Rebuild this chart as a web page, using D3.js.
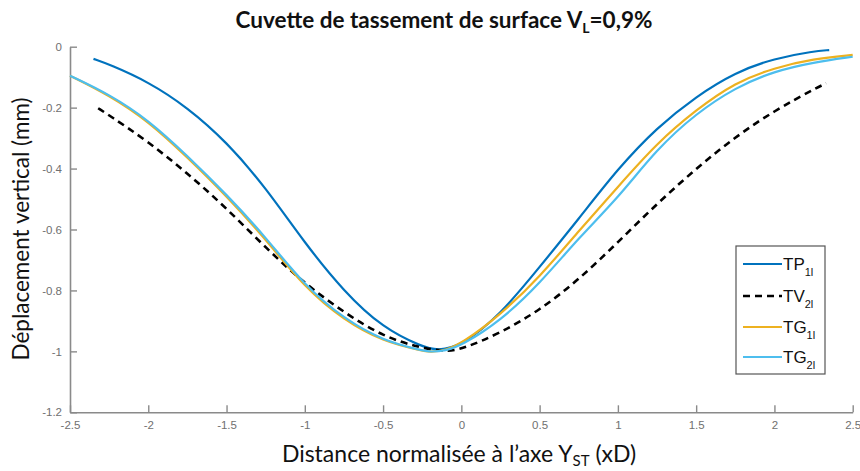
<!DOCTYPE html>
<html><head><meta charset="utf-8">
<script src="https://cdn.jsdelivr.net/npm/d3@7"></script>
<style>
html,body{margin:0;padding:0;background:#fff;}
svg{display:block;}
</style>
</head><body>
<svg id="chart" width="860" height="471"></svg>
<script>
// ---- data ----
const xTicks = [-2.5, -2, -1.5, -1, -0.5, 0, 0.5, 1, 1.5, 2, 2.5];
const xTickLabels = ["-2.5", "-2", "-1.5", "-1", "-0.5", "0", "0.5", "1", "1.5", "2", "2.5"];
const yTicks = [0, -0.2, -0.4, -0.6, -0.8, -1, -1.2];
const yTickLabels = ["0", "-0.2", "-0.4", "-0.6", "-0.8", "-1", "-1.2"];

const seriesNames = ["TP", "TV", "TG", "TG"];
const seriesSubs = ["1l", "2l", "1l", "2l"];

const tp1X = [-2.35, -2.25, -2.0, -1.75, -1.5, -1.25, -1.0, -0.75, -0.5, -0.25, -0.15, 0, 0.25, 0.5, 0.75, 1.0, 1.25, 1.5, 1.75, 2.0, 2.25, 2.35];
const tp1Y = [-0.040, -0.058, -0.115, -0.199, -0.312, -0.462, -0.645, -0.804, -0.924, -0.985, -0.998, -0.982, -0.880, -0.723, -0.565, -0.400, -0.265, -0.163, -0.084, -0.038, -0.015, -0.011];

const tv2X = [-2.32, -2.25, -2.0, -1.75, -1.5, -1.25, -1.0, -0.75, -0.5, -0.25, -0.1, 0, 0.25, 0.5, 0.75, 1.0, 1.25, 1.5, 1.75, 2.0, 2.25, 2.33];
const tv2Y = [-0.202, -0.225, -0.312, -0.415, -0.530, -0.660, -0.778, -0.872, -0.952, -0.990, -1.000, -0.994, -0.940, -0.865, -0.765, -0.642, -0.515, -0.400, -0.296, -0.210, -0.140, -0.120];

const tg1X = [-2.5, -2.25, -2.0, -1.75, -1.5, -1.25, -1.0, -0.75, -0.5, -0.25, -0.2, -0.1, 0, 0.25, 0.5, 0.75, 1.0, 1.25, 1.5, 1.75, 2.0, 2.25, 2.5];
const tg1Y = [-0.095, -0.159, -0.244, -0.363, -0.490, -0.632, -0.791, -0.898, -0.968, -0.998, -1.003, -0.996, -0.975, -0.880, -0.756, -0.605, -0.460, -0.316, -0.207, -0.117, -0.069, -0.040, -0.027];

const tg2X = [-2.5, -2.25, -2.0, -1.75, -1.5, -1.25, -1.0, -0.75, -0.5, -0.25, -0.2, -0.1, 0, 0.25, 0.5, 0.75, 1.0, 1.25, 1.5, 1.75, 2.0, 2.25, 2.5];
const tg2Y = [-0.095, -0.156, -0.240, -0.358, -0.485, -0.625, -0.785, -0.893, -0.965, -0.997, -1.002, -0.998, -0.981, -0.900, -0.778, -0.627, -0.497, -0.335, -0.219, -0.134, -0.080, -0.051, -0.033];

// ---- chart ----
const svg = d3.select("#chart");
const x = d3.scaleLinear().domain([-2.5, 2.5]).range([70, 852.7]);
const y = d3.scaleLinear().domain([-1.2, 0]).range([412.3, 46.7]);

const axisColor = "#8a8a8a";
const labelColor = "#707070";

const gx = svg.append("g").attr("transform", `translate(0,${y(-1.2)})`)
  .call(d3.axisBottom(x).tickValues(xTicks).tickFormat((d, i) => xTickLabels[i]).tickSizeInner(-7).tickSizeOuter(0).tickPadding(9));
const gy = svg.append("g").attr("transform", `translate(${x(-2.5)},0)`)
  .call(d3.axisLeft(y).tickValues(yTicks).tickFormat((d, i) => yTickLabels[i]).tickSizeInner(-7).tickSizeOuter(0).tickPadding(8));
[gx, gy].forEach(g => {
  g.select(".domain").attr("stroke", axisColor).attr("stroke-width", 1.6);
  g.selectAll(".tick line").attr("stroke", axisColor).attr("stroke-width", 1.4);
  g.selectAll(".tick text").attr("fill", labelColor).attr("font-family", "Liberation Sans, Arial, sans-serif").attr("font-size", 11.5);
});

const series = [
  {xs: tp1X, ys: tp1Y, color: "#0072BD", dash: null, w: 2.2},
  {xs: tv2X, ys: tv2Y, color: "#000000", dash: "7,5", w: 2.6},
  {xs: tg1X, ys: tg1Y, color: "#EDB120", dash: null, w: 2.2},
  {xs: tg2X, ys: tg2Y, color: "#4DBEEE", dash: null, w: 2.2}
];
const line = d3.line().x(d => x(d[0])).y(d => y(d[1])).curve(d3.curveBasis);
series.forEach(s => {
  const pts = s.xs.map((v, i) => [v, s.ys[i]]);
  const p = svg.append("path").datum(pts).attr("d", line)
    .attr("fill", "none").attr("stroke", s.color).attr("stroke-width", s.w);
  if (s.dash) p.attr("stroke-dasharray", s.dash);
});

// title
const title = svg.append("text").attr("x", 444).attr("y", 28).attr("text-anchor", "middle")
  .attr("font-family", "Lato, sans-serif").attr("font-weight", "bold").attr("font-size", 22.5).attr("fill", "#111");
title.append("tspan").text("Cuvette de tassement de surface V");
title.append("tspan").attr("font-size", 14).attr("dy", 5).text("L");
title.append("tspan").attr("dy", -5).text("=0,9%");

// axis labels
svg.append("text").attr("transform", "translate(29,229) rotate(-90)").attr("text-anchor", "middle")
  .attr("font-family", "Lato, sans-serif").attr("font-size", 22.5).attr("fill", "#111")
  .text("Déplacement vertical (mm)");
const xl = svg.append("text").attr("x", 459).attr("y", 462).attr("text-anchor", "middle")
  .attr("font-family", "Lato, sans-serif").attr("font-size", 23).attr("fill", "#111");
xl.append("tspan").text("Distance normalisée à l’axe Y");
xl.append("tspan").attr("font-size", 15).attr("dy", 4).text("ST");
xl.append("tspan").attr("dy", -4).text(" (xD)");

// legend
const lg = svg.append("g");
lg.append("rect").attr("x", 736).attr("y", 246).attr("width", 89).attr("height", 128)
  .attr("fill", "#fff").attr("stroke", "#555").attr("stroke-width", 1.2);
const legendY = [264, 296, 327, 357];
series.forEach((s, i) => {
  const l = lg.append("line").attr("x1", 743).attr("x2", 782).attr("y1", legendY[i]).attr("y2", legendY[i])
    .attr("stroke", s.color).attr("stroke-width", s.w);
  if (s.dash) l.attr("stroke-dasharray", s.dash);
  const t = lg.append("text").attr("x", 783).attr("y", legendY[i] + 6)
    .attr("font-family", "Liberation Sans, Arial, sans-serif").attr("font-size", 17).attr("fill", "#111");
  t.append("tspan").text(seriesNames[i]);
  t.append("tspan").attr("font-size", 11).attr("dy", 6).text(seriesSubs[i]);
});
</script>
</body></html>
